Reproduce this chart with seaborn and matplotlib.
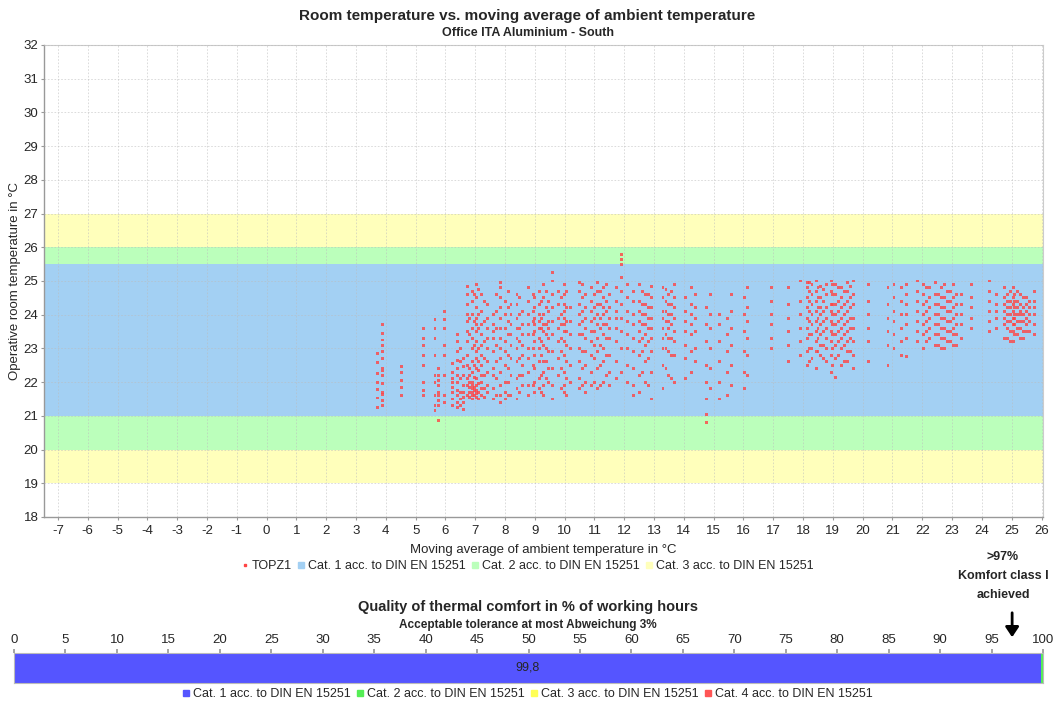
import matplotlib
matplotlib.use("Agg")
import matplotlib.pyplot as plt
from matplotlib.lines import Line2D
from matplotlib.patches import FancyArrowPatch
import seaborn as sns
import pandas as pd

# ---------------- data ----------------
col_x = [3.73, 3.88, 4.52, 5.25, 5.65, 5.78, 5.98, 6.25, 6.42, 6.6, 6.75, 6.9, 7.05, 7.2, 7.4,
         7.6, 7.85, 8.0, 8.2, 8.4, 8.6, 8.8, 9.0, 9.15, 9.3, 9.45, 9.6, 9.8, 10.0, 10.2,
         10.5, 10.7, 10.9, 11.1, 11.3, 11.5, 11.75, 11.9, 12.1, 12.3, 12.5, 12.7, 12.9,
         13.3, 13.5, 13.7, 14.05, 14.25, 14.4, 14.75, 14.9, 15.2, 15.45, 15.6, 16.05, 16.15,
         16.93, 17.5, 17.9, 18.15, 18.3, 18.45, 18.6, 18.8, 18.95, 19.1, 19.3, 19.5, 19.7,
         20.2, 20.85, 21.05, 21.3, 21.46, 21.85, 22.05, 22.25, 22.45, 22.65, 22.85, 23.05,
         23.3, 23.65, 24.25, 24.5, 24.75, 24.95, 25.1, 25.3, 25.5, 25.75,
         6.5, 6.82, 6.97, 7.12, 7.3, 7.7, 8.1, 8.5, 8.95, 9.22, 9.38, 9.9, 10.05, 10.6,
         11.0, 11.2, 11.4, 12.6, 12.8, 13.4, 13.6, 18.2, 18.5, 18.7, 19.0, 19.2, 19.4, 19.6,
         22.15, 22.55, 22.75, 22.95, 23.15, 24.85, 25.05, 25.2, 25.4, 25.6]
col_y = [
    [21.26, 21.53, 21.77, 21.98, 22.27, 22.57, 22.84],
    [21.3, 21.45, 21.62, 21.7, 21.95, 22.2, 22.35, 22.42, 22.7, 22.9, 23.1, 23.25, 23.45, 23.7],
    [21.6, 21.85, 22.05, 22.3, 22.45],
    [21.6, 21.75, 22.0, 22.5, 22.8, 23.1, 23.3, 23.6],
    [21.15, 21.3, 21.6, 22.0, 22.2, 22.8, 23.3, 23.6, 23.85],
    [20.85, 21.3, 21.45, 21.6, 21.7, 21.9, 22.05, 22.2, 22.4],
    [21.4, 21.6, 22.2, 22.8, 23.1, 23.6, 23.85, 24.1],
    [21.3, 21.5, 21.7, 21.85, 22.0, 22.1, 22.3, 22.55],
    [21.25, 21.4, 21.6, 21.75, 22.0, 22.2, 22.4, 22.65, 22.9, 23.2, 23.4],
    [21.2, 21.4, 21.55, 21.7, 21.9, 22.2, 22.45, 22.7],
    [21.6, 21.9, 22.1, 22.5, 22.8, 23.2, 23.5, 23.8, 24.0, 24.3, 24.6, 24.85],
    [21.5, 21.6, 21.7, 21.8, 21.9, 22.0, 22.3, 22.6, 23.0, 23.3, 23.6, 24.0, 24.4, 24.7],
    [21.55, 21.65, 21.75, 21.9, 22.1, 22.4, 22.7, 22.9, 23.2, 23.5, 23.7, 23.9, 24.2, 24.5, 24.9],
    [21.6, 21.8, 22.0, 22.2, 22.5, 22.8, 23.1, 23.4, 23.7, 24.1, 24.6],
    [21.7, 21.9, 22.3, 22.6, 23.0, 23.3, 23.6, 23.9, 24.3],
    [21.5, 21.8, 22.2, 22.4, 22.9, 23.3, 23.5, 23.7, 24.0],
    [21.4, 21.6, 21.9, 22.3, 22.7, 23.0, 23.3, 23.6, 23.9, 24.2, 24.5, 24.8, 24.95],
    [21.5, 21.7, 22.0, 22.5, 22.9, 23.2, 23.6, 24.0, 24.4],
    [21.6, 22.2, 22.7, 23.1, 23.4, 23.7, 24.0, 24.3],
    [21.5, 21.8, 22.1, 22.6, 23.0, 23.3, 23.6, 23.9, 24.3, 24.6],
    [21.9, 22.2, 22.5, 22.8, 23.1, 23.4, 23.7, 24.1],
    [21.6, 21.9, 22.3, 22.7, 23.0, 23.4, 23.7, 24.0, 24.4, 24.8],
    [21.7, 22.0, 22.4, 22.8, 23.2, 23.5, 23.7, 23.9, 24.2, 24.5],
    [21.8, 22.1, 22.6, 23.0, 23.3, 23.6, 23.8, 24.0, 24.3, 24.7],
    [21.6, 21.9, 22.3, 22.6, 23.1, 23.5, 23.7, 24.0, 24.5, 24.9],
    [22.0, 22.4, 22.9, 23.3, 23.6, 23.8, 24.1, 24.4],
    [21.5, 21.9, 22.4, 22.9, 23.4, 23.8, 24.2, 24.6, 25.0, 25.24],
    [22.2, 22.7, 23.2, 23.6, 23.9, 24.3, 24.7],
    [21.7, 21.9, 22.3, 22.8, 23.2, 23.5, 23.7, 23.9, 24.1, 24.3, 24.6, 24.9],
    [22.0, 22.5, 23.0, 23.4, 23.8, 24.2],
    [21.8, 22.1, 22.6, 23.0, 23.4, 23.7, 24.0, 24.3, 24.7, 24.95],
    [21.7, 22.0, 22.5, 22.9, 23.3, 23.6, 23.9, 24.2, 24.6],
    [21.9, 22.3, 22.8, 23.2, 23.5, 23.8, 24.1, 24.4, 24.8],
    [21.8, 22.4, 22.9, 23.3, 23.7, 24.0, 24.3, 24.7, 24.95],
    [22.0, 22.6, 23.0, 23.4, 23.7, 24.0, 24.2, 24.5, 24.8],
    [21.9, 22.3, 22.8, 23.3, 23.6, 23.9, 24.2, 24.6],
    [22.1, 22.6, 23.2, 23.6, 23.9, 24.1, 24.4, 24.8],
    [22.3, 23.0, 23.5, 23.9, 24.3, 24.7, 25.1, 25.5, 25.65, 25.8],
    [22.0, 22.5, 23.0, 23.4, 23.8, 24.1, 24.5, 24.9],
    [21.6, 21.9, 22.4, 22.9, 23.3, 23.7, 24.0, 24.4, 24.7],
    [21.7, 22.2, 22.8, 23.2, 23.5, 23.8, 24.1, 24.4, 24.9],
    [22.0, 22.6, 23.1, 23.4, 23.7, 24.0, 24.3, 24.6],
    [21.5, 22.3, 22.9, 23.3, 23.6, 23.9, 24.2, 24.5, 24.85],
    [21.8, 22.5, 23.0, 23.3, 23.6, 23.9, 24.1, 24.5, 24.8],
    [22.2, 22.9, 23.3, 23.6, 23.8, 24.0, 24.3, 24.6],
    [22.0, 22.8, 23.2, 23.5, 23.9, 24.2, 24.5, 24.9],
    [22.1, 22.7, 23.1, 23.5, 23.8, 24.1, 24.5],
    [22.3, 22.9, 23.4, 23.7, 24.0, 24.3, 24.8],
    [22.6, 23.0, 23.5, 23.9, 24.2, 24.6],
    [20.79, 21.05, 21.5, 22.0, 22.5, 23.2, 23.7, 24.2],
    [21.8, 22.4, 23.0, 23.6, 24.0, 24.6],
    [21.5, 22.0, 22.6, 23.2, 23.7, 24.0],
    [21.6, 22.3, 22.9, 23.4, 23.9],
    [21.9, 22.5, 23.1, 23.6, 24.1, 24.6],
    [21.8, 22.3, 22.9, 23.5, 24.0, 24.5],
    [22.2, 22.8, 23.3, 23.8, 24.2, 24.8],
    [23.0, 23.3, 23.7, 24.0, 24.4, 24.8],
    [22.6, 23.1, 23.5, 23.9, 24.3, 24.8],
    [22.8, 23.2, 23.6, 24.0, 24.4, 25.0],
    [22.5, 22.9, 23.3, 23.6, 23.9, 24.2, 24.5, 24.8, 24.95],
    [22.7, 23.0, 23.4, 23.7, 24.0, 24.3, 24.6, 24.9],
    [22.4, 22.9, 23.2, 23.5, 23.8, 24.1, 24.4, 24.7, 25.0],
    [22.8, 23.1, 23.4, 23.7, 24.0, 24.2, 24.5, 24.85],
    [22.6, 23.0, 23.3, 23.6, 23.9, 24.2, 24.6, 24.9],
    [22.3, 22.8, 23.2, 23.5, 23.8, 24.1, 24.3, 24.7, 25.0],
    [22.15, 22.7, 23.1, 23.4, 23.7, 24.0, 24.3, 24.6, 24.9],
    [22.5, 23.0, 23.3, 23.6, 23.9, 24.2, 24.5, 24.8],
    [22.6, 22.9, 23.2, 23.5, 23.8, 24.1, 24.4, 24.7, 24.95],
    [22.4, 22.8, 23.2, 23.6, 23.9, 24.3, 24.6, 25.0],
    [22.6, 23.2, 23.6, 24.0, 24.4, 24.9],
    [22.5, 23.1, 23.5, 23.9, 24.3, 24.8],
    [23.0, 23.4, 23.8, 24.1, 24.5, 24.9],
    [22.8, 23.2, 23.6, 24.0, 24.4, 24.8],
    [22.75, 23.3, 23.7, 24.0, 24.3, 24.6, 24.9],
    [23.2, 23.5, 23.8, 24.1, 24.4, 24.7, 25.0],
    [23.0, 23.4, 23.7, 24.0, 24.3, 24.6, 24.9],
    [23.3, 23.6, 23.9, 24.2, 24.5, 24.8],
    [23.1, 23.4, 23.7, 24.0, 24.3, 24.6, 24.95],
    [23.0, 23.3, 23.6, 23.9, 24.2, 24.5, 24.8],
    [23.2, 23.5, 23.8, 24.1, 24.4, 24.7],
    [23.1, 23.4, 23.6, 23.9, 24.2, 24.5, 24.9],
    [23.3, 23.7, 24.0, 24.3, 24.6],
    [23.6, 23.9, 24.2, 24.5, 24.9],
    [23.5, 23.8, 24.1, 24.4, 24.7, 25.0],
    [23.6, 23.9, 24.1, 24.3, 24.6],
    [23.3, 23.7, 23.9, 24.1, 24.3, 24.5, 24.8],
    [23.2, 23.5, 23.8, 24.0, 24.2, 24.4, 24.7],
    [23.4, 23.7, 23.9, 24.0, 24.2, 24.4, 24.6],
    [23.3, 23.6, 23.8, 24.0, 24.1, 24.3, 24.6],
    [23.5, 23.7, 23.9, 24.1, 24.3, 24.5],
    [23.4, 23.7, 24.0, 24.2, 24.4, 24.7],
    # extra columns
    [21.3, 21.5, 21.7, 22.1, 22.6, 23.0],
    [21.55, 21.7, 21.85, 22.0, 22.2, 22.4, 23.4, 23.9],
    [21.6, 21.75, 21.85, 22.15, 22.5, 23.1, 23.8, 24.6],
    [21.5, 21.7, 21.95, 22.35, 22.6, 23.0, 23.6, 24.0, 24.75],
    [21.55, 21.8, 22.2, 22.7, 23.2, 23.8, 24.4],
    [21.6, 22.1, 22.6, 23.1, 23.6, 24.1, 24.6],
    [21.6, 22.0, 22.4, 22.8, 23.4, 23.8, 24.2, 24.7],
    [21.7, 22.2, 22.7, 23.2, 23.6, 24.0, 24.5],
    [21.9, 22.5, 23.0, 23.4, 23.8, 24.1, 24.6],
    [21.7, 22.2, 22.8, 23.2, 23.6, 23.9, 24.4],
    [22.1, 22.6, 23.0, 23.4, 23.7, 24.2, 24.7],
    [21.8, 22.4, 22.9, 23.3, 23.7, 24.0, 24.5],
    [21.6, 22.1, 22.6, 23.1, 23.5, 23.8, 24.2, 24.7],
    [21.9, 22.4, 22.9, 23.4, 23.8, 24.1, 24.5, 24.9],
    [22.0, 22.7, 23.1, 23.5, 23.9, 24.2, 24.6],
    [21.9, 22.5, 23.1, 23.6, 23.9, 24.3, 24.7],
    [22.2, 22.8, 23.3, 23.7, 24.1, 24.4, 24.9],
    [22.3, 22.9, 23.3, 23.7, 24.0, 24.3, 24.7],
    [21.9, 22.7, 23.2, 23.6, 23.9, 24.2, 24.6],
    [22.4, 23.0, 23.4, 23.8, 24.1, 24.4, 24.75],
    [22.1, 22.8, 23.3, 23.7, 24.0, 24.3, 24.7],
    [22.6, 23.0, 23.4, 23.8, 24.1, 24.4, 24.7, 24.95],
    [22.9, 23.3, 23.6, 23.9, 24.2, 24.5, 24.8],
    [22.7, 23.1, 23.5, 23.8, 24.1, 24.4, 24.75],
    [22.5, 23.0, 23.4, 23.7, 24.0, 24.3, 24.6, 24.9],
    [22.8, 23.2, 23.5, 23.8, 24.1, 24.4, 24.8],
    [22.6, 23.1, 23.4, 23.7, 24.0, 24.3, 24.7],
    [22.9, 23.3, 23.6, 23.9, 24.2, 24.5, 24.85],
    [23.2, 23.5, 23.8, 24.1, 24.4, 24.8],
    [23.1, 23.4, 23.7, 24.0, 24.3, 24.6],
    [23.0, 23.3, 23.6, 23.9, 24.2, 24.5, 24.9],
    [23.2, 23.5, 23.8, 24.1, 24.4, 24.7],
    [23.1, 23.4, 23.7, 24.0, 24.3, 24.6],
    [23.3, 23.6, 23.8, 24.0, 24.2, 24.4, 24.6],
    [23.2, 23.5, 23.7, 23.9, 24.1, 24.3, 24.5, 24.8],
    [23.4, 23.6, 23.8, 24.0, 24.2, 24.4, 24.7],
    [23.3, 23.5, 23.8, 24.0, 24.2, 24.5],
    [23.5, 23.8, 24.0, 24.2, 24.4],
]

bands = [  # (low, high, color, label)
    (19.0, 20.0, "#FFFFBB", None),
    (26.0, 27.0, "#FFFFBB", "Cat. 3 acc. to DIN EN 15251"),
    (20.0, 21.0, "#BBFFBB", None),
    (25.5, 26.0, "#BBFFBB", "Cat. 2 acc. to DIN EN 15251"),
    (21.0, 25.5, "#A3D0F3", "Cat. 1 acc. to DIN EN 15251"),
]

quality_labels = ["Cat. 1 acc. to DIN EN 15251", "Cat. 2 acc. to DIN EN 15251",
                  "Cat. 3 acc. to DIN EN 15251", "Cat. 4 acc. to DIN EN 15251"]
quality_values = [99.8, 0.2, 0.0, 0.0]
quality_colors = ["#5555FF", "#55EE55", "#FFFF55", "#FF5555"]

# ---------------- build ----------------
xs, ys = [], []
for x, yl in zip(col_x, col_y):
    xs += [x] * len(yl)
    ys += yl
df = pd.DataFrame({"x": xs, "y": ys})

sns.set_theme(style="white")
plt.rcParams["font.family"] = ["Liberation Sans", "DejaVu Sans"]
plt.rcParams["axes.unicode_minus"] = False

fig = plt.figure(figsize=(10.55, 7.04), dpi=100)
ax = fig.add_axes([44 / 1055, 1 - 517 / 704, (1043 - 44) / 1055, (517 - 45) / 704])

for lo, hi, c, lab in bands:
    ax.axhspan(lo, hi, color=c, zorder=0, lw=0)

sns.scatterplot(data=df, x="x", y="y", ax=ax, marker="s", s=4.5, color="#FF4444",
                edgecolor="none", alpha=0.8, zorder=3, legend=False)

ax.set_xlim(-7.47, 26.05)
ax.set_ylim(18, 32)
ax.set_xticks(range(-7, 27))
ax.set_yticks(range(18, 33))
ax.grid(True, color="#BBBBBB", ls=(0, (2, 2)), lw=0.6, alpha=0.6, zorder=1)
ax.set_axisbelow(False)
for s in ["top", "right"]:
    ax.spines[s].set_color("#CCCCCC")
    ax.spines[s].set_linewidth(0.8)
for s in ["left", "bottom"]:
    ax.spines[s].set_color("#999999")
    ax.spines[s].set_linewidth(1.0)
ax.tick_params(axis="both", which="major", length=2.5, width=0.8, color="#999999",
               labelsize=9.5, pad=1.5, bottom=True, left=True)
ax.tick_params(axis="x", pad=3)
ax.set_xlabel("Moving average of ambient temperature in °C", fontsize=9.5, labelpad=5)
ax.set_ylabel("Operative room temperature in °C", fontsize=9.5)
ax.yaxis.set_label_coords(-23 / 999, 0.5)

fig.text(0.5, 1 - 16 / 704, "Room temperature vs. moving average of ambient temperature",
         ha="center", va="center", fontsize=11, fontweight="bold")
fig.text(0.5, 1 - 33 / 704, "Office ITA Aluminium - South",
         ha="center", va="center", fontsize=9, fontweight="bold")

handles = [Line2D([], [], ls="none", marker="s", markersize=1.5, color="#FF4444", label="TOPZ1")]
for lo, hi, c, lab in bands[::-1]:
    if lab:
        handles.append(Line2D([], [], ls="none", marker="s", markersize=5, color=c, label=lab))
fig.legend(handles=handles, loc="center", bbox_to_anchor=(0.5, 1 - 566 / 704), ncol=4,
           frameon=False, fontsize=9, handlelength=0.6, handletextpad=0.3, columnspacing=0.4)

# ---------------- quality bar ----------------
bx = fig.add_axes([14 / 1055, 1 - 683 / 704, (1043 - 14) / 1055, 30 / 704])
left = 0.0
for v, c, lab in zip(quality_values, quality_colors, quality_labels):
    bx.barh([0], [v], left=left, color=c, height=1.0, label=lab, edgecolor="none")
    left += v
bx.text(quality_values[0] / 2, 0, "99,8", ha="center", va="center", fontsize=9)
bx.set_xlim(0, 100)
bx.set_ylim(-0.5, 0.5)
bx.set_yticks([])
bx.set_xticks(range(0, 101, 5))
bx.xaxis.tick_top()
bx.tick_params(axis="x", length=3, color="#999999", labelsize=9.5, pad=2, top=True)
for s in bx.spines.values():
    s.set_color("#BBBBBB")
    s.set_linewidth(0.8)

fig.text(0.5, 1 - 607 / 704, "Quality of thermal comfort in % of working hours",
         ha="center", va="center", fontsize=10.5, fontweight="bold")
fig.text(0.5, 1 - 625 / 704, "Acceptable tolerance at most Abweichung 3%",
         ha="center", va="center", fontsize=8.5, fontweight="bold")

qh = [Line2D([], [], ls="none", marker="s", markersize=5, color=c, label=l)
      for c, l in zip(quality_colors, quality_labels)]
fig.legend(handles=qh, loc="center", bbox_to_anchor=(0.5, 1 - 694 / 704), ncol=4,
           frameon=False, fontsize=9, handlelength=0.6, handletextpad=0.3, columnspacing=0.4)

arrow_x = 14 + 0.97 * 1029
fig.text(1003 / 1055, 1 - 576 / 704, ">97%\nKomfort class I\nachieved", ha="center",
         va="center", fontsize=9, fontweight="bold", linespacing=1.8)
fig.add_artist(FancyArrowPatch(
    (arrow_x / 1055, 1 - 610 / 704), (arrow_x / 1055, 1 - 640 / 704), transform=fig.transFigure,
    arrowstyle="-|>,head_length=6,head_width=4", color="black", lw=2))

fig.savefig("out.png", dpi=100)
